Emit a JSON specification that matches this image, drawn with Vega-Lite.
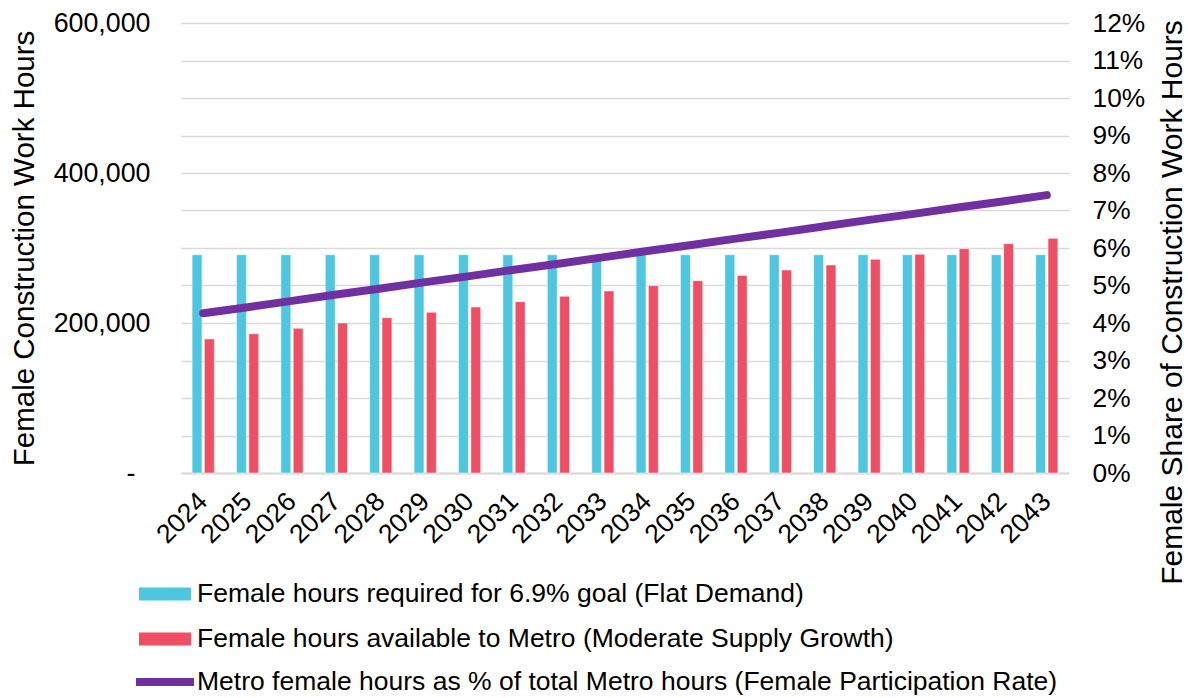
{
  "$schema": "https://vega.github.io/schema/vega-lite/v6.json",
  "width": 888,
  "height": 450,
  "autosize": {"type": "none"},
  "padding": {"left": 181, "top": 23, "right": 119, "bottom": 225},
  "background": "white",
  "config": {
    "font": "Liberation Sans",
    "view": {"stroke": null},
    "axis": {"labelFont": "Liberation Sans", "titleFont": "Liberation Sans", "labelColor": "#000", "titleColor": "#000", "titleFontWeight": "normal"},
    "legend": {"labelFont": "Liberation Sans", "labelColor": "#000", "padding": 0}
  },
  "datasets": {
    "bars": [
      {"year": "2024", "series": "Female hours required for 6.9% goal (Flat Demand)", "hours": 291000},
      {"year": "2025", "series": "Female hours required for 6.9% goal (Flat Demand)", "hours": 291000},
      {"year": "2026", "series": "Female hours required for 6.9% goal (Flat Demand)", "hours": 291000},
      {"year": "2027", "series": "Female hours required for 6.9% goal (Flat Demand)", "hours": 291000},
      {"year": "2028", "series": "Female hours required for 6.9% goal (Flat Demand)", "hours": 291000},
      {"year": "2029", "series": "Female hours required for 6.9% goal (Flat Demand)", "hours": 291000},
      {"year": "2030", "series": "Female hours required for 6.9% goal (Flat Demand)", "hours": 291000},
      {"year": "2031", "series": "Female hours required for 6.9% goal (Flat Demand)", "hours": 291000},
      {"year": "2032", "series": "Female hours required for 6.9% goal (Flat Demand)", "hours": 291000},
      {"year": "2033", "series": "Female hours required for 6.9% goal (Flat Demand)", "hours": 291000},
      {"year": "2034", "series": "Female hours required for 6.9% goal (Flat Demand)", "hours": 291000},
      {"year": "2035", "series": "Female hours required for 6.9% goal (Flat Demand)", "hours": 291000},
      {"year": "2036", "series": "Female hours required for 6.9% goal (Flat Demand)", "hours": 291000},
      {"year": "2037", "series": "Female hours required for 6.9% goal (Flat Demand)", "hours": 291000},
      {"year": "2038", "series": "Female hours required for 6.9% goal (Flat Demand)", "hours": 291000},
      {"year": "2039", "series": "Female hours required for 6.9% goal (Flat Demand)", "hours": 291000},
      {"year": "2040", "series": "Female hours required for 6.9% goal (Flat Demand)", "hours": 291000},
      {"year": "2041", "series": "Female hours required for 6.9% goal (Flat Demand)", "hours": 291000},
      {"year": "2042", "series": "Female hours required for 6.9% goal (Flat Demand)", "hours": 291000},
      {"year": "2043", "series": "Female hours required for 6.9% goal (Flat Demand)", "hours": 291000},
      {"year": "2024", "series": "Female hours available to Metro (Moderate Supply Growth)", "hours": 178700},
      {"year": "2025", "series": "Female hours available to Metro (Moderate Supply Growth)", "hours": 185700},
      {"year": "2026", "series": "Female hours available to Metro (Moderate Supply Growth)", "hours": 192900},
      {"year": "2027", "series": "Female hours available to Metro (Moderate Supply Growth)", "hours": 200000},
      {"year": "2028", "series": "Female hours available to Metro (Moderate Supply Growth)", "hours": 207100},
      {"year": "2029", "series": "Female hours available to Metro (Moderate Supply Growth)", "hours": 214200},
      {"year": "2030", "series": "Female hours available to Metro (Moderate Supply Growth)", "hours": 221300},
      {"year": "2031", "series": "Female hours available to Metro (Moderate Supply Growth)", "hours": 228400},
      {"year": "2032", "series": "Female hours available to Metro (Moderate Supply Growth)", "hours": 235600},
      {"year": "2033", "series": "Female hours available to Metro (Moderate Supply Growth)", "hours": 242700},
      {"year": "2034", "series": "Female hours available to Metro (Moderate Supply Growth)", "hours": 249800},
      {"year": "2035", "series": "Female hours available to Metro (Moderate Supply Growth)", "hours": 256400},
      {"year": "2036", "series": "Female hours available to Metro (Moderate Supply Growth)", "hours": 263500},
      {"year": "2037", "series": "Female hours available to Metro (Moderate Supply Growth)", "hours": 270700},
      {"year": "2038", "series": "Female hours available to Metro (Moderate Supply Growth)", "hours": 277300},
      {"year": "2039", "series": "Female hours available to Metro (Moderate Supply Growth)", "hours": 284900},
      {"year": "2040", "series": "Female hours available to Metro (Moderate Supply Growth)", "hours": 291600},
      {"year": "2041", "series": "Female hours available to Metro (Moderate Supply Growth)", "hours": 299100},
      {"year": "2042", "series": "Female hours available to Metro (Moderate Supply Growth)", "hours": 305800},
      {"year": "2043", "series": "Female hours available to Metro (Moderate Supply Growth)", "hours": 312900}
    ],
    "line": [
      {"year": "2024", "pct": 0.0426},
      {"year": "2025", "pct": 0.0442},
      {"year": "2026", "pct": 0.0459},
      {"year": "2027", "pct": 0.0476},
      {"year": "2028", "pct": 0.0492},
      {"year": "2029", "pct": 0.0509},
      {"year": "2030", "pct": 0.0525},
      {"year": "2031", "pct": 0.0542},
      {"year": "2032", "pct": 0.0558},
      {"year": "2033", "pct": 0.0575},
      {"year": "2034", "pct": 0.0592},
      {"year": "2035", "pct": 0.0608},
      {"year": "2036", "pct": 0.0625},
      {"year": "2037", "pct": 0.0641},
      {"year": "2038", "pct": 0.0658},
      {"year": "2039", "pct": 0.0675},
      {"year": "2040", "pct": 0.0691},
      {"year": "2041", "pct": 0.0708},
      {"year": "2042", "pct": 0.0724},
      {"year": "2043", "pct": 0.0741}
    ]
  },
  "layer": [
    {
      "data": {"name": "bars"},
      "mark": {"type": "bar", "stroke": "white", "strokeWidth": 0.5},
      "encoding": {
        "x": {
          "field": "year", "type": "nominal",
          "scale": {"paddingInner": 0.5, "paddingOuter": 0.25},
          "axis": {"title": null, "labelAngle": -45, "labelAlign": "right", "labelBaseline": "middle", "labelFontSize": 26.5, "labelPadding": 24, "ticks": false, "domainColor": "#d9d9d9", "domainWidth": 2}
        },
        "xOffset": {
          "field": "series", "type": "nominal",
          "sort": ["Female hours required for 6.9% goal (Flat Demand)", "Female hours available to Metro (Moderate Supply Growth)"],
          "scale": {"paddingInner": 0.2}
        },
        "y": {
          "field": "hours", "type": "quantitative",
          "scale": {"domain": [0, 600000]},
          "axis": {
            "values": [0, 50000, 100000, 150000, 200000, 250000, 300000, 350000, 400000, 450000, 500000, 550000, 600000],
            "labelExpr": "datum.value == 0 ? '-' : (datum.value % 200000 == 0 ? format(datum.value, ',') : '')",
            "title": "Female Construction Work Hours",
            "titleFontSize": 29.5, "titleAngle": -90, "titleBaseline": "alphabetic", "titleAlign": "center", "titleX": -148, "titleY": 225,
            "ticks": false, "domain": false, "gridColor": "#d9d9d9", "gridWidth": 1.5,
            "labelFontSize": 26.8,
            "labelPadding": {"condition": {"test": "datum.value == 0", "value": 46}, "value": 31}
          }
        },
        "color": {
          "field": "series", "type": "nominal",
          "sort": ["Female hours required for 6.9% goal (Flat Demand)", "Female hours available to Metro (Moderate Supply Growth)"],
          "scale": {"domain": ["Female hours required for 6.9% goal (Flat Demand)", "Female hours available to Metro (Moderate Supply Growth)"], "range": ["#4EC6DF", "#EF4F65"]},
          "legend": {"orient": "none", "legendX": -42, "legendY": 545, "direction": "vertical", "title": null, "symbolType": "M-1,-0.25H1V0.25H-1Z", "symbolSize": 2704, "symbolStrokeWidth": 0, "labelFontSize": 26.5, "labelLimit": 1000, "rowPadding": 5, "labelOffset": 6}
        }
      }
    },
    {
      "data": {"name": "line"},
      "mark": {"type": "line", "strokeWidth": 8, "strokeCap": "round"},
      "encoding": {
        "x": {"field": "year", "type": "nominal"},
        "y": {
          "field": "pct", "type": "quantitative",
          "scale": {"domain": [0, 0.12]},
          "axis": {
            "orient": "right",
            "values": [0, 0.01, 0.02, 0.03, 0.04, 0.05, 0.06, 0.07, 0.08, 0.09, 0.1, 0.11, 0.12],
            "format": ".0%", "grid": false, "ticks": false, "domain": false,
            "labelFontSize": 26.3, "labelPadding": 23,
            "title": "Female Share of Construction Work Hours",
            "titleFontSize": 30, "titleAngle": -90, "titleBaseline": "alphabetic", "titleAlign": "center", "titleX": 112, "titleY": 279
          }
        },
        "stroke": {
          "datum": "Metro female hours as % of total Metro hours (Female Participation Rate)", "type": "nominal",
          "scale": {"range": ["#7030A0"]},
          "legend": {"orient": "none", "legendX": -49, "legendY": 626, "title": null, "symbolType": "stroke", "symbolSize": 3364, "symbolStrokeWidth": 8, "labelFontSize": 26.5, "labelLimit": 1000, "labelOffset": -1}
        }
      }
    }
  ],
  "resolve": {"scale": {"y": "independent"}}
}
